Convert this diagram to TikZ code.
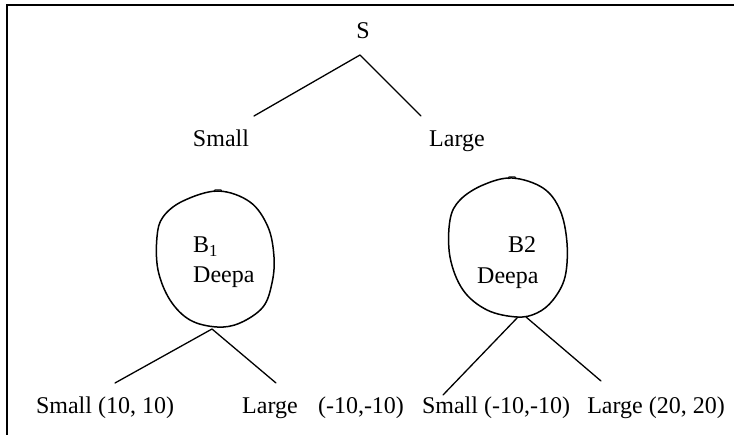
\documentclass[tikz,border=0pt]{standalone}
\usepackage{fontspec}
\setmainfont{Liberation Serif}
\newfontfamily\tnr{Liberation Serif}
\begin{document}
\begin{tikzpicture}[x=1pt,y=-1pt,
  lbl/.style={inner sep=0pt, font=\tnr\fontsize{24}{28}\selectfont},
  ln/.style={line width=1.3pt, line cap=round, line join=round},
  blob/.style={line width=1.5pt}]
\useasboundingbox (0,0) rectangle (734,435);
\begin{scope}
\clip (0,0) rectangle (734,435);
\draw[line width=1.3pt] (7,445) -- (7,5) -- (745,5);
\end{scope}

% labels
\node[lbl, anchor=base] (S) at (363,39) {S};
\node[lbl, anchor=base] (small) at (221,147) {Small};
\node[lbl, anchor=base] (large) at (457,147) {Large};
\node[lbl, anchor=base west] (b1) at (193,253) {B\textsubscript{1}};
\node[lbl, anchor=base west] (d1) at (193,283) {Deepa};
\node[lbl, anchor=base west] (b2) at (508,253) {B2};
\node[lbl, anchor=base west] (d2) at (477,284) {Deepa};
\node[lbl, anchor=base] (ll1) at (105,414) {Small (10, 10)};
\node[lbl, anchor=base] (ll2) at (270,414) {Large};
\node[lbl, anchor=base] (ll3) at (361,414) {(-10,-10)};
\node[lbl, anchor=base] (rr1) at (496,414) {Small (-10,-10)};
\node[lbl, anchor=base] (rr2) at (656,414) {Large (20, 20)};

% connector end points
\coordinate (Sa) at (360,55);
\coordinate (smallT) at (254,116);
\coordinate (largeT) at (421,116);
\coordinate (B1bot) at (212,329);
\coordinate (ll1T) at (115,383);
\coordinate (ll2T) at (276,383);
\coordinate (B2botL) at (518,317);
\coordinate (B2botR) at (526,317);
\coordinate (rr1T) at (443,395);
\coordinate (rr2T) at (601,381);

\draw[ln] (smallT) -- (Sa) -- (largeT);
\draw[ln] (ll1T) -- (B1bot) -- (ll2T);
\draw[ln] (B2botL) -- (rr1T);
\draw[ln] (B2botR) -- (rr2T);

% blobs
\draw[blob] plot[smooth cycle, tension=0.6] coordinates {
  (218,191) (250,202) (268,227) (274,257) (272,283) (263,307) (240,323)
  (217,327) (190,320) (170,300) (158,270) (157,237) (163,217) (183,201)};
\draw[line width=1pt] (214,192) -- (215,190) -- (221,190) -- (222,192);
\draw[blob] plot[smooth cycle, tension=0.6] coordinates {
  (512,178) (543,188) (560,210) (567,243) (565,277) (553,300) (537,313)
  (517,317) (487,310) (463,290) (450,257) (450,220) (460,200) (483,185)};
\draw[line width=1pt] (508,179) -- (509,177) -- (515,177) -- (516,179);
\end{tikzpicture}
\end{document}
